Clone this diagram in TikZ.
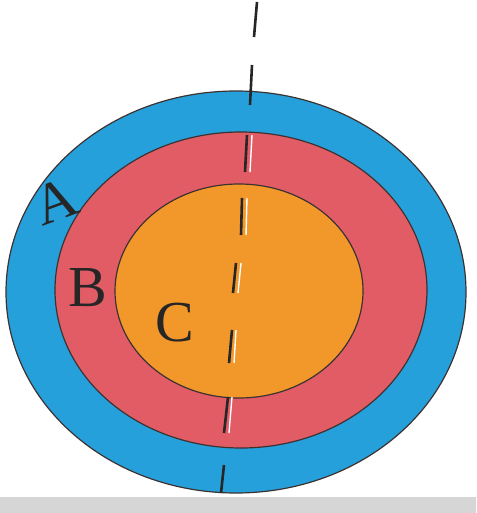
\documentclass[tikz,border=0pt]{standalone}
\usepackage{fontspec}
\setmainfont{Liberation Serif}
\definecolor{ringA}{RGB}{38,160,218}
\definecolor{ringB}{RGB}{226,92,102}
\definecolor{ringC}{RGB}{242,152,42}
\definecolor{edge}{RGB}{60,50,50}
\definecolor{strip}{RGB}{214,214,214}
\begin{document}
\begin{tikzpicture}[x=1pt,y=-1pt,
  ring/.style={draw=edge,line width=1.2pt},
  axisdash/.style={draw=black!85,line width=2.6pt},
  glint/.style={draw=white,line width=1.4pt},
  lab/.style={font=\fontsize{58}{58}\selectfont,text=black!85,inner sep=0pt}]
\useasboundingbox (0,0) rectangle (476,513);
\fill[white] (0,0) rectangle (476,513);
\fill[strip] (0,497) rectangle (476,513);
\filldraw[ring,fill=ringA] (236,292) ellipse [x radius=230, y radius=201];
\filldraw[ring,fill=ringB] (241,290) ellipse [x radius=186, y radius=158];
\filldraw[ring,fill=ringC] (239,291) ellipse [x radius=124, y radius=107];
% dashed axis
\draw[axisdash] (257,2) -- (254,37);
\draw[axisdash] (252,65) -- (250,105);
\draw[glint] (252,135) -- (250,172);
\draw[axisdash] (247,135) -- (245,172);
\draw[glint] (247,198) -- (246,235);
\draw[axisdash] (242,198) -- (241,235);
\draw[glint] (241,263) -- (238,293);
\draw[axisdash] (236,263) -- (233,293);
\draw[glint] (236,330) -- (234,363);
\draw[axisdash] (232,330) -- (229,363);
\draw[glint] (232,397) -- (229,433);
\draw[axisdash] (228,397) -- (224,433);
\draw[axisdash] (224,465) -- (221,493);
% labels
\node[lab,rotate=20] (a) at (56,201) {A};
\node[lab] (b) at (88,288) {B};
\node[lab] (c) at (175,323) {C};
\end{tikzpicture}
\end{document}
